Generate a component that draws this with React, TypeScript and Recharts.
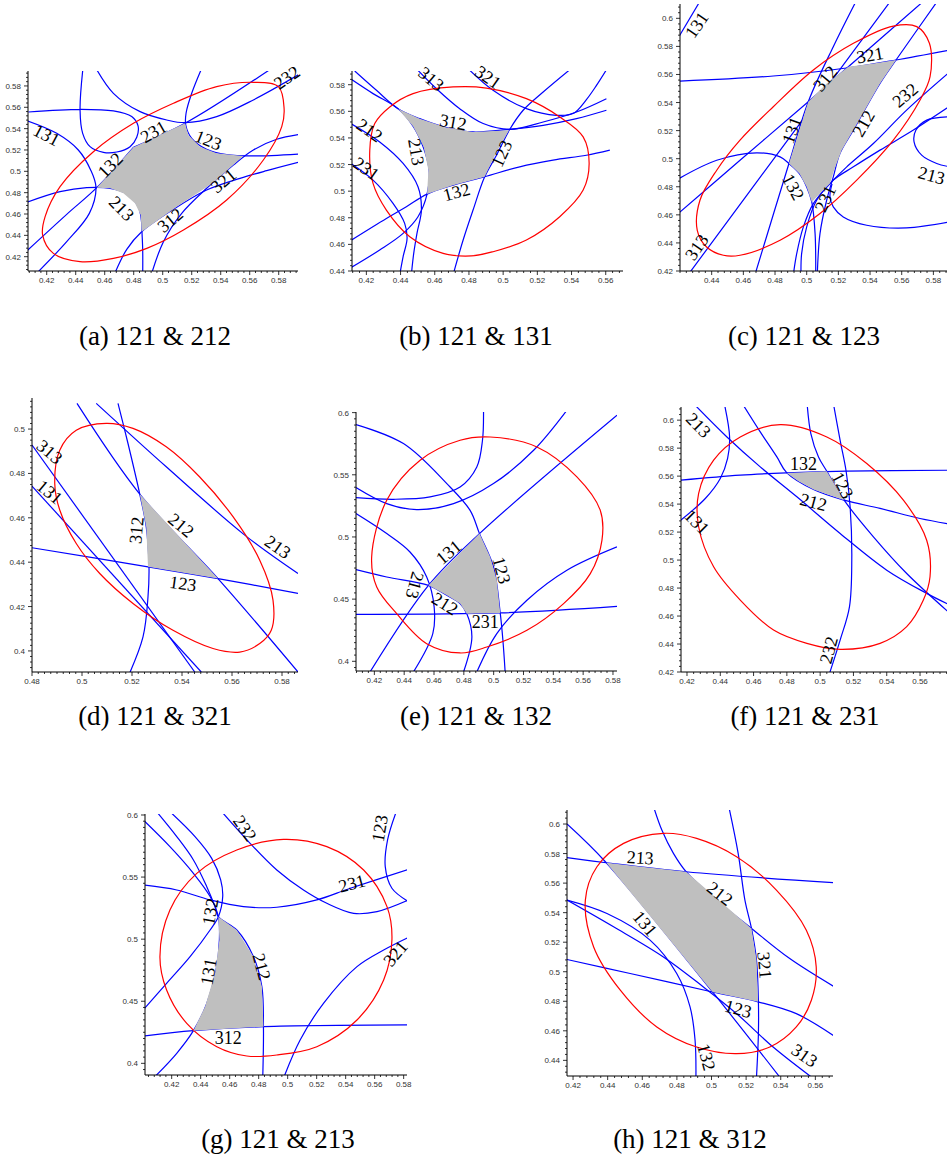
import React from 'react';
import { ComposedChart, Line, Scatter, XAxis, YAxis } from 'recharts';

type P = [number, number];
type Lab = [string, number, number, number];

// ---------------- (a) 121 & 212 ----------------
const aEllipse: P[] = [[0.4172,0.4403],[0.4246,0.4231],[0.443,0.4153],[0.466,0.4184],[0.489,0.4278],[0.5143,0.445],[0.5441,0.4731],[0.5694,0.5106],[0.5821,0.5419],[0.5837,0.5591],[0.5798,0.5794],[0.5625,0.5834],[0.5372,0.5794],[0.5074,0.5638],[0.4798,0.545],[0.4522,0.5184],[0.4292,0.4856],[0.4189,0.4575]];
const aShade: P[] = [[0.4545,0.4847],[0.4798,0.5225],[0.5154,0.545],[0.5177,0.5341],[0.5257,0.5231],[0.5372,0.5169],[0.5556,0.5144],[0.5349,0.4894],[0.5097,0.4669],[0.4855,0.4434],[0.4848,0.4591],[0.4809,0.47],[0.4729,0.4794],[0.4637,0.4841]];
const aLoop: P[] = [[0.4074,0.5556],[0.443,0.5581],[0.466,0.5566],[0.4786,0.5513],[0.483,0.5425],[0.4821,0.5319],[0.4775,0.5231],[0.4683,0.5181],[0.4591,0.5178],[0.4499,0.5231],[0.4448,0.5356],[0.443,0.5575],[0.4451,0.5981]];
const aU: P[] = [[0.4533,0.5981],[0.466,0.5731],[0.4844,0.5559],[0.5028,0.5481],[0.5154,0.5456],[0.5372,0.5513],[0.5625,0.5669],[0.5947,0.5913]];
const a123: P[] = [[0.5274,0.5981],[0.52,0.5731],[0.5161,0.5544],[0.5159,0.5434],[0.52,0.5309],[0.5303,0.5206],[0.5441,0.5156],[0.5625,0.5144],[0.5947,0.5163]];
const a231: P[] = [[0.4798,0.5225],[0.5154,0.545],[0.5763,0.5975]];
const a132: P[] = [[0.4062,0.4253],[0.4338,0.4597],[0.4545,0.4847],[0.4798,0.5225]];
const a131: P[] = [[0.4062,0.5475],[0.4269,0.5356],[0.4418,0.52],[0.4503,0.5013],[0.454,0.4847],[0.4494,0.4606],[0.4338,0.4341],[0.4108,0.4013]];
const a213: P[] = [[0.4062,0.4709],[0.4292,0.4809],[0.4476,0.4847],[0.4637,0.4841],[0.4752,0.4788],[0.4832,0.4669],[0.4855,0.4513],[0.4857,0.4434],[0.4862,0.4263],[0.4862,0.4013]];
const a312: P[] = [[0.466,0.4013],[0.4752,0.4269],[0.4855,0.4434],[0.5074,0.4644],[0.5303,0.4825],[0.5533,0.4934],[0.5717,0.5006],[0.5947,0.5088]];
const a321: P[] = [[0.4917,0.4013],[0.5005,0.4341],[0.5131,0.4606],[0.5303,0.4841],[0.5487,0.5059],[0.5625,0.52],[0.5786,0.53],[0.5947,0.5347]];
const aLabels: Lab[] = [['131',0.42,0.5341,28],['231',0.4936,0.5372,-30],['123',0.5315,0.5294,22],['132',0.4637,0.5059,-45],['213',0.4717,0.4653,45],['312',0.5051,0.4544,-40],['321',0.5418,0.4913,-40],['232',0.5855,0.5881,-35]];
const aXTicks = [0.42,0.44,0.46,0.48,0.5,0.52,0.54,0.56,0.58];
const aYTicks = [0.42,0.44,0.46,0.48,0.5,0.52,0.54,0.56,0.58];

// ---------------- (b) 121 & 131 ----------------
const bEllipse: P[] = [[0.422,0.5308],[0.4249,0.5508],[0.4337,0.5633],[0.4473,0.5733],[0.4707,0.5783],[0.4902,0.5775],[0.5136,0.5695],[0.5331,0.5558],[0.5468,0.5408],[0.5503,0.5208],[0.5468,0.5008],[0.5331,0.4808],[0.5136,0.4633],[0.4941,0.4545],[0.4814,0.4513],[0.4649,0.4533],[0.4454,0.4658],[0.4317,0.4858],[0.4239,0.5058]];
const bShade: P[] = [[0.4385,0.562],[0.4512,0.5545],[0.4668,0.5478],[0.4824,0.5445],[0.5035,0.5458],[0.4961,0.5295],[0.4892,0.5108],[0.4707,0.5045],[0.4555,0.4978],[0.4563,0.5158],[0.4535,0.5333],[0.4473,0.5488]];
const b312: P[] = [[0.4132,0.5903],[0.4259,0.5758],[0.4385,0.562],[0.4512,0.5545],[0.4668,0.5478],[0.4824,0.5445],[0.5039,0.5465],[0.5234,0.5495],[0.5429,0.5545],[0.5604,0.5608]];
const b313: P[] = [[0.4483,0.5933],[0.461,0.577],[0.4746,0.562],[0.4883,0.5508],[0.5039,0.5465],[0.5234,0.552],[0.5429,0.5595],[0.5604,0.5695]];
const b321: P[] = [[0.4785,0.5933],[0.4941,0.5758],[0.5136,0.562],[0.5312,0.557],[0.5409,0.5583],[0.5487,0.5688],[0.5546,0.5795],[0.5614,0.5933]];
const b123: P[] = [[0.5409,0.5933],[0.5234,0.5745],[0.5117,0.5608],[0.5039,0.5465],[0.4961,0.527],[0.4892,0.5108],[0.4824,0.4858],[0.4766,0.4633],[0.4707,0.437]];
const b132: P[] = [[0.4103,0.4625],[0.4317,0.4795],[0.4434,0.4883],[0.4555,0.4978],[0.4707,0.5045],[0.4892,0.5108],[0.5097,0.5183],[0.5292,0.5233],[0.5487,0.527],[0.5624,0.5308]];
const b213: P[] = [[0.4103,0.5848],[0.4239,0.5733],[0.4385,0.562],[0.4473,0.5488],[0.4532,0.5333],[0.4567,0.5158],[0.4555,0.4978],[0.4502,0.4808],[0.4415,0.4683],[0.4278,0.4558],[0.4103,0.442]];
const b212: P[] = [[0.4103,0.5513],[0.4278,0.537],[0.4415,0.5208],[0.4502,0.5033],[0.4522,0.4858],[0.4496,0.4683],[0.4477,0.4533],[0.4463,0.437]];
const b231: P[] = [[0.4103,0.5213],[0.4239,0.5083],[0.4356,0.4908],[0.4424,0.4758],[0.4438,0.4645],[0.4415,0.4508],[0.4395,0.437]];
const bLabels: Lab[] = [['313',0.458,0.5845,40],['321',0.4912,0.5858,35],['312',0.4707,0.552,10],['212',0.422,0.5458,35],['213',0.4493,0.5295,80],['123',0.499,0.5283,-65],['231',0.42,0.517,35],['132',0.4727,0.4995,-15]];
const bXTicks = [0.42,0.44,0.46,0.48,0.5,0.52,0.54,0.56];
const bYTicks = [0.44,0.46,0.48,0.5,0.52,0.54,0.56,0.58];

// ---------------- (c) 121 & 123 ----------------
const cEllipse: P[] = [[0.4309,0.449],[0.4326,0.4704],[0.4432,0.4918],[0.4579,0.5132],[0.4789,0.537],[0.5042,0.5632],[0.5295,0.5822],[0.5547,0.5945],[0.5695,0.5941],[0.5775,0.5822],[0.5779,0.5584],[0.5716,0.5418],[0.5547,0.5132],[0.5316,0.4847],[0.5084,0.4609],[0.4832,0.4419],[0.4579,0.4312],[0.4474,0.4312],[0.4368,0.4371]];
const cShade: P[] = [[0.5032,0.4692],[0.5,0.4799],[0.4954,0.4894],[0.4888,0.4966],[0.4947,0.518],[0.501,0.5406],[0.5126,0.5536],[0.5263,0.5655],[0.5421,0.5679],[0.5564,0.5703],[0.5463,0.5536],[0.5379,0.537],[0.5295,0.5204],[0.5221,0.5061],[0.5173,0.4918],[0.5147,0.4823],[0.5084,0.4752]];
const c131a: P[] = [[0.4183,0.585],[0.4331,0.6131]];
const c321: P[] = [[0.42,0.5553],[0.4789,0.5589],[0.5263,0.5648],[0.5564,0.5703],[0.5905,0.5774]];
const c312: P[] = [[0.4179,0.46],[0.4579,0.4989],[0.501,0.5406],[0.5263,0.5655],[0.5747,0.6131]];
const c313: P[] = [[0.4253,0.4176],[0.4895,0.5156],[0.5535,0.6131]];
const c131: P[] = [[0.4674,0.4176],[0.4888,0.4966],[0.501,0.5406],[0.5168,0.5798],[0.5316,0.6131]];
const c132: P[] = [[0.4183,0.4852],[0.4432,0.4989],[0.4684,0.5042],[0.4832,0.5013],[0.4888,0.4966],[0.4954,0.4894],[0.5,0.4799],[0.5032,0.4692],[0.5053,0.4466],[0.5057,0.4176]];
const c212: P[] = [[0.5831,0.6131],[0.5564,0.5703],[0.5463,0.5536],[0.5295,0.5204],[0.521,0.5037],[0.5168,0.4871],[0.5126,0.4704],[0.5084,0.4466],[0.5067,0.4176]];
const c232: P[] = [[0.5905,0.562],[0.5631,0.5346],[0.5421,0.5108],[0.5253,0.4942],[0.5168,0.4847],[0.5042,0.468],[0.4979,0.4514],[0.4937,0.4324],[0.4916,0.4176]];
const c231: P[] = [[0.5905,0.5375],[0.5674,0.5204],[0.5463,0.5061],[0.5295,0.4942],[0.5168,0.4847],[0.5063,0.4704],[0.5,0.4514],[0.4968,0.4324],[0.4964,0.4176]];
const c213: P[] = [[0.5905,0.5299],[0.5758,0.5275],[0.569,0.5204],[0.5678,0.512],[0.5726,0.5025],[0.5821,0.4966],[0.5905,0.4942]];
const cLow: P[] = [[0.5905,0.455],[0.5631,0.4507],[0.5379,0.4526],[0.5231,0.4585],[0.5168,0.4657],[0.5147,0.4728],[0.516,0.482]];
const cLabels: Lab[] = [['131',0.4305,0.5953,-55],['321',0.54,0.5739,-10],['312',0.5116,0.5572,-50],['232',0.5621,0.5453,-40],['212',0.5358,0.5251,-60],['131',0.4905,0.5204,-70],['132',0.4916,0.4799,62],['231',0.5116,0.4716,-65],['213',0.5789,0.4882,15],['313',0.4305,0.4371,-55]];
const cXTicks = [0.44,0.46,0.48,0.5,0.52,0.54,0.56,0.58];
const cYTicks = [0.42,0.44,0.46,0.48,0.5,0.52,0.54,0.56,0.58,0.6];

// ---------------- (d) 121 & 321 ----------------
const dEllipse: P[] = [[0.5097,0.5026],[0.5204,0.5003],[0.5337,0.492],[0.547,0.4785],[0.5604,0.4605],[0.5711,0.4409],[0.5764,0.4229],[0.5757,0.4093],[0.5711,0.4033],[0.5631,0.3995],[0.5524,0.4011],[0.5364,0.4093],[0.5204,0.4214],[0.5071,0.4349],[0.4977,0.4484],[0.4911,0.4635],[0.4891,0.4755],[0.4911,0.4905],[0.4977,0.4995]];
const dShade: P[] = [[0.5231,0.4707],[0.5544,0.4326],[0.5264,0.4379],[0.5257,0.4559]];
const d312: P[] = [[0.5144,0.5116],[0.5184,0.4935],[0.5231,0.4707],[0.5257,0.4559],[0.5268,0.4379],[0.5264,0.4244],[0.5244,0.4063],[0.5184,0.3883]];
const d212: P[] = [[0.498,0.5116],[0.5231,0.4707],[0.5544,0.4326],[0.5864,0.3905]];
const d213: P[] = [[0.5057,0.5116],[0.5337,0.483],[0.5651,0.4522],[0.5864,0.4349]];
const d123: P[] = [[0.48,0.4465],[0.5264,0.4379],[0.5544,0.4326],[0.5864,0.4259]];
const d313: P[] = [[0.48,0.4928],[0.5451,0.3905]];
const d131: P[] = [[0.48,0.4743],[0.5477,0.3905]];
const dLabels: Lab[] = [['313',0.4871,0.4898,40],['131',0.4871,0.4717,40],['312',0.5217,0.4544,-85],['212',0.5397,0.4567,40],['213',0.5784,0.4469,35],['123',0.5404,0.4304,8]];
const dXTicks = [0.48,0.5,0.52,0.54,0.56,0.58];
const dYTicks = [0.4,0.42,0.44,0.46,0.48,0.5];

// ---------------- (e) 121 & 132 ----------------
const eEllipse: P[] = [[0.4182,0.4839],[0.4283,0.5295],[0.4507,0.5617],[0.4775,0.5778],[0.4977,0.5804],[0.529,0.5724],[0.5558,0.5483],[0.5715,0.5214],[0.5726,0.4973],[0.5648,0.4705],[0.5469,0.4464],[0.5223,0.4249],[0.4954,0.4115],[0.4775,0.4067],[0.4551,0.4142],[0.435,0.4383],[0.4216,0.4598]];
const eShade: P[] = [[0.4563,0.4611],[0.4905,0.5027],[0.4977,0.4839],[0.5021,0.4651],[0.5044,0.4389],[0.482,0.4383],[0.4775,0.4464],[0.4686,0.4531]];
const e131: P[] = [[0.4171,0.3914],[0.4563,0.4611],[0.4905,0.5027],[0.5827,0.5979]];
const e123: P[] = [[0.4077,0.5904],[0.4395,0.5751],[0.4686,0.5429],[0.4842,0.5214],[0.4905,0.5027],[0.4999,0.4759],[0.5044,0.4389],[0.5062,0.4169],[0.5077,0.3914]];
const eTop: P[] = [[0.4932,0.6019],[0.4925,0.5778],[0.4887,0.5563],[0.4775,0.5402],[0.4574,0.5322],[0.4328,0.5303],[0.4077,0.5316]];
const eArc: P[] = [[0.4077,0.5397],[0.4283,0.5268],[0.4484,0.522],[0.4731,0.5268],[0.4999,0.5429],[0.5268,0.5697],[0.5491,0.6019]];
const e213: P[] = [[0.4077,0.5188],[0.4283,0.5027],[0.4439,0.4879],[0.4551,0.4678],[0.4601,0.4437],[0.4592,0.4223],[0.4462,0.3914]];
const e212: P[] = [[0.4077,0.4737],[0.4283,0.4678],[0.4563,0.4611],[0.4686,0.4531],[0.4775,0.4464],[0.482,0.4383],[0.4854,0.4196],[0.4798,0.3914]];
const e231: P[] = [[0.4077,0.4378],[0.5044,0.4389],[0.5827,0.4442]];
const eLow: P[] = [[0.4887,0.3914],[0.5021,0.4223],[0.5223,0.4491],[0.5491,0.4732],[0.5827,0.492]];
const eLabels: Lab[] = [['131',0.4697,0.4879,-40],['123',0.5055,0.4732,75],['213',0.4473,0.4611,105],['212',0.4674,0.4464,32],['231',0.4943,0.4316,0]];
const eXTicks = [0.42,0.44,0.46,0.48,0.5,0.52,0.54,0.56,0.58];
const eYTicks = [0.4,0.45,0.5,0.55,0.6];

// ---------------- (f) 121 & 231 ----------------
const fEllipse: P[] = [[0.476,0.5968],[0.504,0.588],[0.528,0.569],[0.55,0.5428],[0.564,0.5142],[0.566,0.4881],[0.562,0.4714],[0.552,0.4524],[0.536,0.4405],[0.512,0.4362],[0.492,0.4405],[0.472,0.45],[0.452,0.4714],[0.436,0.4952],[0.427,0.5238],[0.427,0.5476],[0.436,0.5714],[0.452,0.588]];
const fShade: P[] = [[0.48,0.5623],[0.504,0.5635],[0.5144,0.5428],[0.496,0.5504],[0.487,0.5564]];
const f213: P[] = [[0.422,0.6142],[0.444,0.588],[0.464,0.5666],[0.486,0.5452],[0.512,0.519],[0.54,0.4928],[0.564,0.4762],[0.578,0.4678]];
const f123: P[] = [[0.492,0.6142],[0.4944,0.5904],[0.499,0.5737],[0.504,0.5635],[0.5144,0.5428],[0.532,0.5166],[0.552,0.4904],[0.578,0.4619]];
const f232: P[] = [[0.5076,0.6142],[0.512,0.5856],[0.5156,0.5635],[0.518,0.5381],[0.519,0.5],[0.5176,0.4666],[0.512,0.4428],[0.505,0.4167]];
const f132: P[] = [[0.4164,0.5571],[0.452,0.5607],[0.48,0.5623],[0.5156,0.5635],[0.578,0.5642]];
const f212: P[] = [[0.452,0.6142],[0.464,0.5916],[0.474,0.5737],[0.48,0.5623],[0.496,0.5504],[0.5144,0.5428],[0.536,0.5369],[0.56,0.5297],[0.578,0.5257]];
const f131: P[] = [[0.442,0.6142],[0.4456,0.588],[0.4444,0.5726],[0.44,0.5583],[0.431,0.544],[0.415,0.5273]];
const fLabels: Lab[] = [['213',0.427,0.5964,45],['132',0.49,0.569,0],['123',0.5136,0.5535,62],['212',0.496,0.5416,15],['131',0.426,0.5273,45],['232',0.505,0.4357,-75]];
const fXTicks = [0.42,0.44,0.46,0.48,0.5,0.52,0.54,0.56];
const fYTicks = [0.42,0.44,0.46,0.48,0.5,0.52,0.54,0.56,0.58,0.6];

// ---------------- (g) 121 & 213 ----------------
const gEllipse: P[] = [[0.4119,0.4859],[0.4188,0.5235],[0.4373,0.553],[0.4649,0.5718],[0.4971,0.5804],[0.527,0.5745],[0.5524,0.5557],[0.5685,0.5262],[0.5719,0.4993],[0.5662,0.4671],[0.5478,0.4349],[0.5201,0.4134],[0.4925,0.4067],[0.4718,0.4059],[0.4511,0.4134],[0.4304,0.4322],[0.4165,0.4591]];
const gShade: P[] = [[0.4522,0.5181],[0.4529,0.4993],[0.4499,0.4725],[0.443,0.4456],[0.435,0.4263],[0.4833,0.4295],[0.4822,0.4618],[0.4764,0.4859],[0.4649,0.5074]];
const g131: P[] = [[0.4073,0.3879],[0.4235,0.4081],[0.435,0.4263],[0.4442,0.4483],[0.4506,0.4752],[0.4529,0.4993],[0.4522,0.5181],[0.4465,0.5343],[0.435,0.553],[0.4188,0.5745],[0.4004,0.596]];
const g132: P[] = [[0.4004,0.443],[0.4165,0.4644],[0.4327,0.4859],[0.4465,0.5074],[0.4522,0.5181],[0.4552,0.5343],[0.4538,0.5477],[0.4476,0.5651],[0.4361,0.5826],[0.4188,0.6027]];
const g212: P[] = [[0.4096,0.6027],[0.4235,0.5826],[0.435,0.5638],[0.4442,0.5423],[0.4499,0.5262],[0.4522,0.5181],[0.4649,0.5074],[0.4764,0.4859],[0.4822,0.4618],[0.4833,0.4295],[0.4828,0.3879]];
const g231: P[] = [[0.4004,0.5436],[0.4235,0.5396],[0.4465,0.5316],[0.4695,0.5262],[0.4925,0.5257],[0.5201,0.5316],[0.5432,0.541],[0.5834,0.5563]];
const g232: P[] = [[0.4545,0.6027],[0.4741,0.5772],[0.4925,0.5557],[0.5109,0.5396],[0.527,0.5289],[0.5455,0.5208],[0.5616,0.5222],[0.5834,0.5316]];
const g123: P[] = [[0.5749,0.6027],[0.5689,0.5799],[0.5673,0.5584],[0.5719,0.541],[0.5834,0.5302]];
const g321: P[] = [[0.4971,0.3879],[0.5086,0.4188],[0.5247,0.4483],[0.5478,0.4779],[0.5662,0.4913],[0.5834,0.5015]];
const g312: P[] = [[0.4004,0.422],[0.435,0.4263],[0.4833,0.4295],[0.5834,0.4309]];
const gLabels: Lab[] = [['232',0.4706,0.5893,55],['123',0.5634,0.5893,-80],['231',0.5443,0.545,-15],['132',0.4465,0.5222,-80],['212',0.4822,0.4779,75],['131',0.4453,0.4738,-80],['312',0.4591,0.4209,0],['321',0.5742,0.4886,-50]];
const gXTicks = [0.42,0.44,0.46,0.48,0.5,0.52,0.54,0.56,0.58];
const gYTicks = [0.4,0.45,0.5,0.55,0.6];

// ---------------- (h) 121 & 312 ----------------
const hEllipse: P[] = [[0.4271,0.5485],[0.4338,0.5711],[0.4492,0.5869],[0.4722,0.5937],[0.4914,0.5903],[0.5145,0.5779],[0.5375,0.5553],[0.5548,0.5281],[0.5605,0.5033],[0.5577,0.4807],[0.549,0.4626],[0.5337,0.449],[0.5145,0.4445],[0.4914,0.449],[0.4684,0.4626],[0.4473,0.4875],[0.4319,0.5168]];
const hShade: P[] = [[0.4392,0.5738],[0.4853,0.5677],[0.5231,0.5293],[0.526,0.5078],[0.5269,0.4796],[0.5006,0.4863]];
const h213: P[] = [[0.4165,0.5772],[0.4392,0.5738],[0.4853,0.5677],[0.5711,0.5602]];
const h131: P[] = [[0.4165,0.6],[0.4392,0.5738],[0.5006,0.4863],[0.5394,0.4287]];
const h212: P[] = [[0.4665,0.6118],[0.4713,0.5959],[0.478,0.5801],[0.4853,0.5677],[0.5029,0.5485],[0.5231,0.5293],[0.5452,0.5089],[0.5711,0.4897]];
const h321: P[] = [[0.51,0.6118],[0.5154,0.5801],[0.5193,0.5485],[0.5231,0.5293],[0.526,0.5078],[0.5271,0.4796],[0.5271,0.4581],[0.526,0.4287]];
const h123: P[] = [[0.4165,0.5083],[0.453,0.4988],[0.5006,0.4863],[0.5269,0.4796],[0.549,0.4716],[0.5711,0.4563]];
const h132: P[] = [[0.4165,0.5485],[0.4396,0.5394],[0.4645,0.5214],[0.4799,0.4988],[0.4876,0.4762],[0.4905,0.4536],[0.491,0.4287]];
const h313: P[] = [[0.4165,0.5485],[0.4434,0.5304],[0.4722,0.51],[0.4953,0.4897],[0.5145,0.4716],[0.5356,0.449],[0.5577,0.4287]];
const hLabels: Lab[] = [['213',0.4588,0.5774,3],['212',0.5049,0.553,38],['131',0.4617,0.5327,50],['321',0.5308,0.5044,85],['123',0.5154,0.475,15],['313',0.5538,0.4434,35],['132',0.4972,0.4423,75]];
const hXTicks = [0.42,0.44,0.46,0.48,0.5,0.52,0.54,0.56];
const hYTicks = [0.44,0.46,0.48,0.5,0.52,0.54,0.56,0.58,0.6];

const captions = ['(a) 121 & 212','(b) 121 & 131','(c) 121 & 123','(d) 121 & 321','(e) 121 & 132','(f) 121 & 231','(g) 121 & 213','(h) 121 & 312'];

// ---------------- curve interpolation (centripetal Catmull-Rom) ----------------
function crSeg(ctx: any, p0: number[], p1: number[], p2: number[], p3: number[]) {
  const d01 = Math.hypot(p1[0] - p0[0], p1[1] - p0[1]);
  const d12 = Math.hypot(p2[0] - p1[0], p2[1] - p1[1]);
  const d23 = Math.hypot(p3[0] - p2[0], p3[1] - p2[1]);
  const a01 = Math.sqrt(d01), a12 = Math.sqrt(d12), a23 = Math.sqrt(d23);
  let x1 = p1[0], y1 = p1[1], x2 = p2[0], y2 = p2[1];
  if (a01 > 1e-6) {
    const a = 2 * d01 + 3 * a01 * a12 + d12;
    const n = 3 * a01 * (a01 + a12);
    x1 = (p1[0] * a - p0[0] * d12 + p2[0] * d01) / n;
    y1 = (p1[1] * a - p0[1] * d12 + p2[1] * d01) / n;
  }
  if (a23 > 1e-6) {
    const b = 2 * d23 + 3 * a23 * a12 + d12;
    const m = 3 * a23 * (a23 + a12);
    x2 = (p2[0] * b + p1[0] * d23 - p3[0] * d12) / m;
    y2 = (p2[1] * b + p1[1] * d23 - p3[1] * d12) / m;
  }
  ctx.bezierCurveTo(x1, y1, x2, y2, p2[0], p2[1]);
}

function makeCR(closed: boolean) {
  return function (context: any) {
    let pts: number[][] = [];
    return {
      areaStart() {},
      areaEnd() {},
      lineStart() { pts = []; },
      point(x: number, y: number) { pts.push([+x, +y]); },
      lineEnd() {
        const n = pts.length;
        if (!n) return;
        context.moveTo(pts[0][0], pts[0][1]);
        if (n === 1) return;
        const get = (i: number) => (closed ? pts[(i + n) % n] : pts[Math.max(0, Math.min(n - 1, i))]);
        const segs = closed ? n : n - 1;
        for (let i = 0; i < segs; i++) crSeg(context, get(i - 1), get(i), get(i + 1), get(i + 2));
        if (closed) context.closePath();
      },
    };
  };
}
const curveOpen: any = makeCR(false);
const curveClosed: any = makeCR(true);

const toXY = (pts: P[]) => pts.map(([x, y]) => ({ x, y }));
const fmt = (v: number) => String(parseFloat(v.toFixed(3)));

function withMinors(majors: number[], domain: [number, number], sub: number) {
  const step = (majors[1] - majors[0]) / sub;
  const out: number[] = [];
  for (let k = 0; ; k++) {
    const t = majors[0] - k * step;
    if (t < domain[0] - 1e-9) break;
    out.push(t);
  }
  for (let k = 1; ; k++) {
    const t = majors[0] + k * step;
    if (t > domain[1] + 1e-9) break;
    out.push(t);
  }
  return out.map((v) => Math.round(v * 1e6) / 1e6).sort((a, b) => a - b);
}

const TICK_FONT = 'Liberation Sans, Arial, sans-serif';
const isMaj = (majors: number[], v: number) => majors.some((m) => Math.abs(m - v) < 1e-6);

const makeXTick = (majors: number[]) => (props: any) => {
  const { x, y, payload } = props;
  const major = isMaj(majors, payload.value);
  return (
    <g>
      <line x1={x} x2={x} y1={y} y2={y + (major ? 4 : 2)} stroke="#000" strokeWidth={0.8} />
      {major && (
        <text x={x} y={y + 12} textAnchor="middle" fontSize={8} fontFamily={TICK_FONT} fill="#333">
          {fmt(payload.value)}
        </text>
      )}
    </g>
  );
};

const makeYTick = (majors: number[]) => (props: any) => {
  const { x, y, payload } = props;
  const major = isMaj(majors, payload.value);
  return (
    <g>
      <line x1={x} x2={x - (major ? 4 : 2)} y1={y} y2={y} stroke="#000" strokeWidth={0.8} />
      {major && (
        <text x={x - 7} y={y + 3} textAnchor="end" fontSize={8} fontFamily={TICK_FONT} fill="#333">
          {fmt(payload.value)}
        </text>
      )}
    </g>
  );
};

const LabelShape = (props: any) => {
  const d = props.payload || props;
  const { cx, cy } = props;
  if (cx == null || cy == null) return <g />;
  return (
    <text
      x={cx}
      y={cy}
      dy="0.35em"
      textAnchor="middle"
      fontSize={18}
      fontFamily="Liberation Serif, Times New Roman, serif"
      fill="#000"
      transform={`rotate(${d.r} ${cx} ${cy})`}
    >
      {d.t}
    </text>
  );
};
const Empty = () => <g />;

interface PanelProps {
  box: [number, number, number, number];
  xd: [number, number];
  yd: [number, number];
  xt: number[];
  yt: number[];
  xs: number;
  ys: number;
  shade: P[];
  curves: P[][];
  ellipse: P[];
  labels: Lab[];
}

const YW = 34;
const XH = 18;
const MT = 20;
const MR = 20;

function Panel({ box, xd, yd, xt, yt, xs, ys, shade, curves, ellipse, labels }: PanelProps) {
  const [L, T, R, B] = box;
  const w = R - L + YW + MR;
  const h = B - T + MT + XH;
  const labData = labels.map(([t, x, y, r]) => ({ t, x, y, r }));
  return (
    <div style={{ position: 'absolute', left: L - YW, top: T - MT }}>
      <ComposedChart width={w} height={h} margin={{ top: MT, right: MR, left: 0, bottom: 0 }}>
        <XAxis
          type="number"
          dataKey="x"
          domain={xd}
          allowDataOverflow
          ticks={withMinors(xt, xd, xs)}
          interval={0}
          height={XH}
          tickSize={0}
          tickMargin={0}
          tickLine={false}
          tick={makeXTick(xt)}
          axisLine={{ stroke: '#000', strokeWidth: 1 }}
        />
        <YAxis
          type="number"
          dataKey="y"
          domain={yd}
          allowDataOverflow
          ticks={withMinors(yt, yd, ys)}
          interval={0}
          width={YW}
          tickSize={0}
          tickMargin={0}
          tickLine={false}
          tick={makeYTick(yt)}
          axisLine={{ stroke: '#000', strokeWidth: 1 }}
        />
        <XAxis xAxisId="lab" type="number" dataKey="x" domain={xd} hide />
        <YAxis yAxisId="lab" type="number" dataKey="y" domain={yd} hide />
        <Scatter
          data={toXY(shade)}
          line={{ fill: '#bfbfbf', stroke: 'none' }}
          lineJointType="linear"
          shape={Empty}
          isAnimationActive={false}
        />
        {curves.map((c, i) => (
          <Line
            key={'c' + i}
            data={toXY(c)}
            dataKey="y"
            type={curveOpen}
            stroke="#0000ff"
            strokeWidth={1.2}
            dot={false}
            activeDot={false}
            isAnimationActive={false}
          />
        ))}
        <Line
          data={toXY(ellipse)}
          dataKey="y"
          type={curveClosed}
          stroke="#ff0000"
          strokeWidth={1.2}
          dot={false}
          activeDot={false}
          isAnimationActive={false}
        />
        <Scatter
          xAxisId="lab"
          yAxisId="lab"
          data={labData}
          shape={LabelShape}
          isAnimationActive={false}
        />
      </ComposedChart>
    </div>
  );
}

const panels: PanelProps[] = [
  { box: [28, 71, 298, 271], xd: [0.4071, 0.5933], yd: [0.4066, 0.594], xt: aXTicks, yt: aYTicks, xs: 5, ys: 5, shade: aShade, ellipse: aEllipse, labels: aLabels,
    curves: [aLoop, aU, a123, a231, a132, a131, a213, a312, a321] },
  { box: [352, 71, 623, 271], xd: [0.4116, 0.5701], yd: [0.44, 0.5903], xt: bXTicks, yt: bYTicks, xs: 5, ys: 5, shade: bShade, ellipse: bEllipse, labels: bLabels,
    curves: [b312, b313, b321, b123, b132, b213, b212, b231] },
  { box: [680, 4, 947, 271], xd: [0.42, 0.5886], yd: [0.42, 0.6102], xt: cXTicks, yt: cYTicks, xs: 5, ys: 5, shade: cShade, ellipse: cEllipse, labels: cLabels,
    curves: [c131a, c321, c312, c313, c131, c132, c212, c232, c231, c213, cLow] },
  { box: [32, 398, 298, 672], xd: [0.48, 0.5864], yd: [0.3905, 0.514], xt: dXTicks, yt: dYTicks, xs: 8, ys: 8, shade: dShade, ellipse: dEllipse, labels: dLabels,
    curves: [d312, d212, d213, d123, d313, d131] },
  { box: [356, 412, 617, 671], xd: [0.4077, 0.5827], yd: [0.3922, 0.6005], xt: eXTicks, yt: eYTicks, xs: 5, ys: 10, shade: eShade, ellipse: eEllipse, labels: eLabels,
    curves: [e131, e123, eTop, eArc, e213, e212, e231, eLow] },
  { box: [681, 407, 947, 672], xd: [0.4164, 0.5762], yd: [0.42, 0.6094], xt: fXTicks, yt: fYTicks, xs: 5, ys: 5, shade: fShade, ellipse: fEllipse, labels: fLabels,
    curves: [f213, f123, f232, f132, f212, f131] },
  { box: [145, 814, 407, 1075], xd: [0.4016, 0.5823], yd: [0.3906, 0.6008], xt: gXTicks, yt: gYTicks, xs: 5, ys: 10, shade: gShade, ellipse: gEllipse, labels: gLabels,
    curves: [g131, g132, g212, g231, g232, g123, g321, g312] },
  { box: [567, 810, 833, 1076], xd: [0.4165, 0.5702], yd: [0.4294, 0.6095], xt: hXTicks, yt: hYTicks, xs: 5, ys: 5, shade: hShade, ellipse: hEllipse, labels: hLabels,
    curves: [h213, h131, h212, h321, h123, h132, h313] },
];

const captionPos: [number, number][] = [[155, 345], [476, 345], [804, 345], [155, 725], [476, 725], [805, 725], [278, 1148], [690, 1148]];

export default function App() {
  return (
    <div style={{ position: 'absolute', left: 0, top: 0, width: 947, height: 1158, overflow: 'hidden', background: '#fff' }}>
      <svg width={947} height={1158} style={{ position: 'absolute', left: 0, top: 0 }}>
        {captions.map((c, i) => (
          <text key={i} x={captionPos[i][0]} y={captionPos[i][1]} textAnchor="middle" fontSize={27} fontFamily="Liberation Serif, Times New Roman, serif" fill="#000">
            {c}
          </text>
        ))}
      </svg>
      {panels.map((p, i) => (
        <Panel key={i} {...p} />
      ))}
    </div>
  );
}
